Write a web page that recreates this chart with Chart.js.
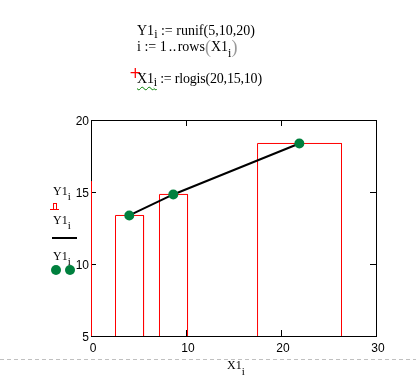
<!DOCTYPE html>
<html><head><meta charset="utf-8">
<script src="https://cdn.jsdelivr.net/npm/chart.js@4/dist/chart.umd.min.js"></script>
<style>
html,body{margin:0;padding:0;background:#fff;}
#wrap{position:relative;width:416px;height:384px;overflow:hidden;background:#fff;}
canvas{position:absolute;left:0;top:0;}
.t{position:absolute;font-family:"Liberation Serif","Times New Roman",serif;color:#000;white-space:nowrap;}
.e{font-size:14px;line-height:14px;}
.l{font-size:12px;line-height:12px;}
.s1{font-size:12px;position:relative;top:3px;}
.s2{font-size:12px;position:relative;top:6px;}
.par{color:#999;font-size:18px;position:relative;top:2px;}
.wav{text-decoration:underline wavy #008000;text-underline-offset:3px;text-decoration-thickness:1px;}
.plus{position:absolute;color:#ff0000;font-family:"DejaVu Sans",sans-serif;font-size:15px;line-height:15px;}
.barsym{position:absolute;}
.dot{position:absolute;width:10px;height:10px;border-radius:5px;background:#00803e;}
</style></head>
<body>
<div id="wrap">
<canvas id="c" width="416" height="384"></canvas>
<div class="t e" style="left:137px;top:24px;">Y1<span class="s1">i</span> := runif(5,10,20)</div>
<div class="t e" style="left:137px;top:38px;">i := 1<span style="margin:0 1px 0 2px;letter-spacing:0.5px">..</span>rows<span class="par">(</span>X1<span class="s2">i</span><span class="par">)</span></div>
<div class="plus" style="left:129px;top:66px;">+</div>
<div class="t e" style="left:137px;top:72px;letter-spacing:-0.2px;"><span class="wav">X1<span class="s1">i</span></span> := rlogis(20,15,10)</div>
<div class="t l" style="left:53px;top:185px;">Y1<span class="s2" style="font-size:11px;top:5px">i</span></div>
<div class="barsym" style="left:50px;top:203px;width:9px;height:6px;border-bottom:1px solid #f00;"><div style="position:absolute;left:3px;top:0;width:2px;height:5px;border:1px solid #f00;border-bottom:none;"></div></div>
<div class="t l" style="left:53px;top:214px;">Y1<span class="s2" style="font-size:11px;top:5px">i</span></div>
<div style="position:absolute;left:52px;top:237px;width:25px;height:2px;background:#000;"></div>
<div class="t l" style="left:53px;top:250px;">Y1<span class="s2" style="font-size:11px;top:5px">i</span></div>
<div class="dot" style="left:51px;top:265px;"></div>
<div class="dot" style="left:65px;top:265px;"></div>
<div class="t l" style="left:227px;top:359px;">X1<span class="s2" style="font-size:11px;top:6px">i</span></div>
</div>
<script>
// ---- data ----
const xTicks = [0, 10, 20, 30];
const yTicks = [5, 10, 15, 20];
const x1 = [4.03, 8.66, 21.93];          // point positions (X1_i)
const y1 = [13.37, 14.83, 18.37];        // point values (Y1_i)
const barLeft  = [-3, 2.58, 7.21, 17.53];
const barRight = [0.05, 5.53, 10.16, 26.37];
const barTop   = [15.73, 13.37, 14.83, 18.37];

const RED = '#ff0000', GREEN = '#00803e';

const barSets = barLeft.map((l, i) => ({
  data: [{x: l, y: 5}, {x: l, y: barTop[i]}, {x: barRight[i], y: barTop[i]}, {x: barRight[i], y: 5}],
  showLine: true, borderColor: RED, borderWidth: 1, pointRadius: 0, fill: false, tension: 0, order: 2
}));

const frame = {
  id: 'frame',
  beforeDatasetsDraw(chart) {
    const {ctx, chartArea: a, scales: {x, y}} = chart;
    ctx.save();
    ctx.strokeStyle = '#000'; ctx.lineWidth = 1;
    ctx.strokeRect(a.left + 0.5, a.top + 0.5, a.right - a.left, a.bottom - a.top);
    ctx.beginPath();
    xTicks.slice(1, -1).forEach(v => {
      const p = Math.floor(x.getPixelForValue(v)) + 0.5;
      ctx.moveTo(p, a.bottom); ctx.lineTo(p, a.bottom - 6);
      ctx.moveTo(p, a.top); ctx.lineTo(p, a.top + 6);
    });
    yTicks.slice(1, -1).forEach(v => {
      const p = Math.floor(y.getPixelForValue(v)) + 0.5;
      ctx.moveTo(a.left, p); ctx.lineTo(a.left + 5, p);
      ctx.moveTo(a.right, p); ctx.lineTo(a.right - 6, p);
    });
    ctx.stroke();
    ctx.restore();
  },
  afterDraw(chart) {
    const {ctx, width} = chart;
    ctx.save();
    ctx.strokeStyle = '#c0c0c0'; ctx.lineWidth = 1; ctx.setLineDash([4, 3]);
    ctx.beginPath(); ctx.moveTo(0, 359.5); ctx.lineTo(width, 359.5); ctx.stroke();
    ctx.restore();
  }
};

new Chart(document.getElementById('c'), {
  type: 'scatter',
  data: {
    datasets: [
      {data: x1.map((v, i) => ({x: v, y: y1[i]})), showLine: true, borderColor: '#000', borderWidth: 2,
       pointRadius: 5, pointBackgroundColor: GREEN, pointBorderColor: GREEN, pointBorderWidth: 0, tension: 0, order: 0},
      ...barSets
    ]
  },
  options: {
    responsive: false, animation: false, devicePixelRatio: 1,
    layout: {padding: {top: 120, right: 40, left: 0, bottom: 0}},
    plugins: {legend: {display: false}, tooltip: {enabled: false}},
    scales: {
      x: {
        type: 'linear', min: 0, max: 30,
        afterBuildTicks: s => { s.ticks = xTicks.map(v => ({value: v})); },
        grid: {display: false, drawTicks: false}, border: {display: false},
        ticks: {color: '#000', font: {family: 'Liberation Sans', size: 12}, padding: 5, labelOffset: 2, maxRotation: 0, autoSkip: false},
        afterFit: s => { s.height = 48; }
      },
      y: {
        type: 'linear', min: 5, max: 20,
        afterBuildTicks: s => { s.ticks = yTicks.map(v => ({value: v})); },
        grid: {display: false, drawTicks: false}, border: {display: false},
        ticks: {color: '#000', font: {family: 'Liberation Sans', size: 12}, padding: 2, labelOffset: 2, autoSkip: false},
        afterFit: s => { s.width = 91; }
      }
    }
  },
  plugins: [frame]
});
</script>
</body></html>
